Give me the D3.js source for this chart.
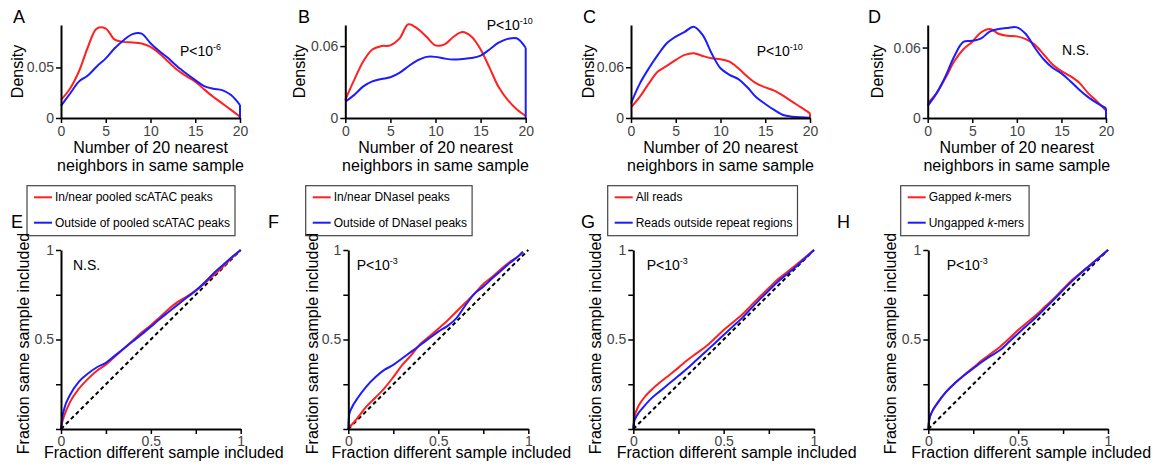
<!DOCTYPE html>
<html>
<head>
<meta charset="utf-8">
<script src="https://cdn.jsdelivr.net/npm/d3@7"></script>
<style>
  body { margin: 0; background: #fff; }
  svg { font-family: "Liberation Sans", Arial, Helvetica, sans-serif; }
  .axis path, .axis line { stroke: #000; }
  .axis path { stroke-width: 2; }
  .axis line { stroke-width: 1.5; }
  .axis text { fill: #444; font-size: 14px; }
  .label { font-size: 16px; fill: #000; }
  .letter { font-size: 18px; fill: #000; }
  .pval { font-size: 14px; fill: #000; }
  .legend-text { font-size: 12px; fill: #000; }
</style>
</head>
<body>
<div id="visualization"></div>
<script>
// ---- DATA ----
// top row: density of "number of 20 nearest neighbours in same sample"
const nnX = [0,1,2,3,4,5,6,7,8,9,10,11,12,13,14,15,16,17,18,19,20]

const densA_red  = [0.018,0.029,0.046,0.070,0.0885,0.0885,0.0776,0.0753,0.0747,0.0737,0.0704,0.0638,0.0556,0.0474,0.0414,0.036,0.0283,0.021,0.0145,0.008,0.0013]
const densA_blue = [0.012,0.024,0.036,0.042,0.051,0.059,0.069,0.077,0.083,0.0835,0.074,0.066,0.059,0.051,0.044,0.0375,0.0316,0.029,0.0276,0.0227,0.0128]

const densB_red  = [0.0151,0.032,0.0474,0.0572,0.060,0.0606,0.0662,0.0782,0.0746,0.0678,0.0606,0.0614,0.0678,0.0718,0.0678,0.0572,0.0418,0.0258,0.0151,0.0073,0.0017]
const densB_blue = [0.0137,0.0193,0.0264,0.0306,0.0325,0.034,0.0376,0.0432,0.048,0.051,0.051,0.0496,0.0488,0.0493,0.050,0.052,0.0572,0.0628,0.066,0.0665,0.0586]

const densC_red  = [0.0126,0.0253,0.041,0.0549,0.0616,0.0687,0.0746,0.0766,0.0734,0.0707,0.0695,0.0667,0.0588,0.049,0.041,0.0363,0.0324,0.0264,0.0193,0.0126,0.0055]
const densC_blue = [0.0174,0.041,0.0588,0.0746,0.0884,0.0963,0.102,0.108,0.0983,0.0766,0.0588,0.051,0.046,0.0363,0.0245,0.0166,0.0095,0.0036,0.0016,0.0008,0.0004]

const densD_red  = [0.0126,0.0212,0.0342,0.0485,0.0586,0.065,0.073,0.0758,0.0715,0.070,0.0695,0.0672,0.0625,0.0543,0.0456,0.040,0.0356,0.030,0.0212,0.014,0.0063]
const densD_blue = [0.0103,0.0212,0.0356,0.0528,0.0649,0.0657,0.0678,0.0738,0.0758,0.0767,0.0772,0.0715,0.060,0.050,0.0428,0.038,0.0313,0.0241,0.0178,0.0126,0.0083]

const densYMax = [0.092, 0.0776, 0.110, 0.0792]
const densYTick = [0.05, 0.06, 0.06, 0.06]
const densXTicks = [0, 5, 10, 15, 20]

// bottom row: fraction same sample vs fraction different sample included
const fracX  = [0,0.005,0.02,0.05,0.1,0.15,0.2,0.25,0.3,0.35,0.4,0.45,0.5,0.55,0.6,0.65,0.7,0.75,0.8,0.85,0.9,0.95,1]
const fracXF = [0,0.005,0.02,0.05,0.1,0.15,0.2,0.25,0.3,0.35,0.4,0.45,0.5,0.55,0.6,0.65,0.7,0.75,0.8,0.85,0.9,0.95,0.97]

const fracE_red  = [0,0.03,0.08,0.15,0.225,0.28,0.325,0.36,0.405,0.45,0.495,0.54,0.58,0.625,0.67,0.71,0.74,0.775,0.815,0.86,0.905,0.955,1]
const fracE_blue = [0,0.05,0.12,0.19,0.265,0.31,0.345,0.37,0.41,0.45,0.49,0.53,0.572,0.615,0.655,0.695,0.735,0.772,0.82,0.87,0.915,0.96,1]

const fracF_red  = [0,0.01,0.025,0.06,0.125,0.175,0.227,0.29,0.358,0.413,0.475,0.516,0.56,0.605,0.655,0.705,0.755,0.81,0.85,0.895,0.935,0.97,0.99]
const fracF_blue = [0,0.08,0.12,0.17,0.237,0.289,0.33,0.358,0.395,0.432,0.469,0.507,0.544,0.575,0.618,0.69,0.755,0.795,0.842,0.885,0.93,0.97,0.99]

const fracG_red  = [0,0.06,0.11,0.162,0.218,0.262,0.302,0.343,0.385,0.423,0.46,0.505,0.553,0.595,0.637,0.688,0.739,0.788,0.836,0.876,0.916,0.958,1]
const fracG_blue = [0,0.04,0.075,0.115,0.171,0.213,0.255,0.297,0.339,0.386,0.432,0.478,0.525,0.572,0.618,0.671,0.724,0.774,0.823,0.865,0.907,0.953,1]

const fracH_red  = [0,0.05,0.095,0.143,0.209,0.258,0.302,0.343,0.385,0.422,0.46,0.505,0.553,0.595,0.637,0.684,0.73,0.782,0.832,0.874,0.916,0.958,1]
const fracH_blue = [0,0.05,0.095,0.143,0.209,0.258,0.3,0.338,0.376,0.41,0.441,0.487,0.534,0.58,0.624,0.674,0.724,0.776,0.826,0.872,0.914,0.957,1]

const fracTicks = [0, 0.25, 0.5, 0.75, 1]
const fracXLabels = ['0', '', '0.5', '', '1']
const fracYLabels = ['', '', '0.5', '', '1']

const topLetters = ['A', 'B', 'C', 'D']
const bottomLetters = ['E', 'F', 'G', 'H']
const topPvals = [['P<10', '-6'], ['P<10', '-10'], ['P<10', '-10'], ['N.S.', '']]
const bottomPvals = [['N.S.', ''], ['P<10', '-3'], ['P<10', '-3'], ['P<10', '-3']]
const legendLabels = [
  ['In/near pooled scATAC peaks', 'Outside of pooled scATAC peaks'],
  ['In/near DNaseI peaks', 'Outside of DNaseI peaks'],
  ['All reads', 'Reads outside repeat regions'],
  ['Gapped *k*-mers', 'Ungapped *k*-mers']
]

// ---- LAYOUT ----
const w = 1158
const h = 467
const RED = '#ff2020'
const BLUE = '#1c1cff'

const topLayout = [
  { left: 61, right: 240, ylab: -38, px: 180, py: 56, lx: 13 },
  { left: 345.3, right: 525.7, ylab: -40, px: 486.7, py: 30, lx: 298 },
  { left: 631, right: 810, ylab: -37.5, px: 756.7, py: 56, lx: 583 },
  { left: 927.7, right: 1106, ylab: -44.5, px: 1062, py: 55, lx: 868 }
]
const topSeries = [
  { red: densA_red, blue: densA_blue, redDrop: false, blueDrop: true },
  { red: densB_red, blue: densB_blue, redDrop: false, blueDrop: true },
  { red: densC_red, blue: densC_blue, redDrop: true, blueDrop: false },
  { red: densD_red, blue: densD_blue, redDrop: false, blueDrop: true }
]
const bottomLayout = [
  { left: 61, right: 240.7, ylab: -32.5, px: 73, lx: 11 },
  { left: 348.3, right: 528.3, ylab: -30, px: 356.7, lx: 268 },
  { left: 633.3, right: 814, ylab: -32, px: 646.7, lx: 581 },
  { left: 928.3, right: 1108, ylab: -32, px: 946.7, lx: 837 }
]
const bottomSeries = [
  { xs: fracX, red: fracE_red, blue: fracE_blue },
  { xs: fracXF, red: fracF_red, blue: fracF_blue },
  { xs: fracX, red: fracG_red, blue: fracG_blue },
  { xs: fracX, red: fracH_red, blue: fracH_blue }
]
const legendX = [27, 305.7, 607.7, 900.7]

const svg = d3.select('#visualization')
  .append('svg')
  .attr('width', w)
  .attr('height', h)

function pText(x, y, parts) {
  const t = svg.append('text').attr('class', 'pval').attr('x', x).attr('y', y)
  t.append('tspan').text(parts[0])
  if (parts[1]) {
    t.append('tspan').attr('dy', -6).style('font-size', '9px').text(parts[1])
  }
}

// TOP ROW: density plots
topLayout.forEach((lay, i) => {
  const s = topSeries[i]
  const y0 = 118, y1 = 25
  const xScale = d3.scaleLinear().domain([0, 20]).range([lay.left, lay.right])
  const yScale = d3.scaleLinear().domain([0, densYMax[i]]).range([y0, y1])

  const line = d3.line()
    .x((d, j) => xScale(nnX[j]))
    .y(d => yScale(d))
    .curve(d3.curveCatmullRom.alpha(0.5))

  const drop = d3.line().x(d => xScale(d[0])).y(d => yScale(d[1]))

  ;[['red', RED, s.red, s.redDrop], ['blue', BLUE, s.blue, s.blueDrop]].forEach(([name, col, vals, hasDrop]) => {
    svg.append('path')
      .attr('d', line(vals))
      .attr('fill', 'none')
      .attr('stroke', col)
      .attr('stroke-width', 2)
    if (hasDrop) {
      svg.append('path')
        .attr('d', drop([[nnX[nnX.length - 1], vals[vals.length - 1]], [nnX[nnX.length - 1], 0]]))
        .attr('stroke', col)
        .attr('stroke-width', 2)
    }
  })

  const xaxis = d3.axisBottom(xScale).tickValues(densXTicks).tickSize(5).tickSizeOuter(0).tickPadding(3)
  const yaxis = d3.axisLeft(yScale).tickValues([0, densYTick[i]]).tickSize(5).tickSizeOuter(0).tickPadding(2)
    .tickFormat(d => d === 0 ? '0' : d3.format('.2f')(d))

  svg.append('g').attr('class', 'axis').attr('transform', `translate(0,${y0})`).call(xaxis)
  svg.append('g').attr('class', 'axis').attr('transform', `translate(${lay.left},0)`).call(yaxis)

  // y label
  svg.append('text')
    .attr('class', 'label')
    .attr('text-anchor', 'middle')
    .attr('transform', `translate(${lay.left + lay.ylab},${(y0 + y1) / 2}) rotate(-90)`)
    .text('Density')

  // x label, two lines
  const cx = (lay.left + lay.right) / 2
  svg.append('text').attr('class', 'label').attr('text-anchor', 'middle')
    .attr('x', cx).attr('y', 153).text('Number of 20 nearest')
  svg.append('text').attr('class', 'label').attr('text-anchor', 'middle')
    .attr('x', cx).attr('y', 171).text('neighbors in same sample')

  svg.append('text').attr('class', 'letter').attr('x', lay.lx).attr('y', 23).text(topLetters[i])
  pText(lay.px, lay.py, topPvals[i])
})

// LEGENDS
legendLabels.forEach((labels, i) => {
  const g = svg.append('g').attr('transform', `translate(${legendX[i]},185.7)`)
  const box = g.append('rect')
    .attr('y', 0)
    .attr('height', 50)
    .attr('fill', '#fff')
    .attr('stroke', '#444')
    .attr('stroke-width', 1.2)
  let maxRight = 0
  labels.forEach((lab, j) => {
    const ly = 11.6 + j * 25.4
    g.append('line')
      .attr('x1', 7).attr('x2', 25)
      .attr('y1', ly).attr('y2', ly)
      .attr('stroke', j === 0 ? RED : BLUE)
      .attr('stroke-width', 2)
    const t = g.append('text').attr('class', 'legend-text').attr('x', 28).attr('y', ly + 4)
    lab.split('*').forEach((part, k) => {
      if (part) t.append('tspan').style('font-style', k % 2 ? 'italic' : 'normal').text(part)
    })
    maxRight = Math.max(maxRight, 28 + t.node().getComputedTextLength())
  })
  box.attr('width', maxRight + 5)
})

// BOTTOM ROW: fraction curves
bottomLayout.forEach((lay, i) => {
  const s = bottomSeries[i]
  const y0 = 429, y1 = 250
  const xScale = d3.scaleLinear().domain([0, 1]).range([lay.left, lay.right])
  const yScale = d3.scaleLinear().domain([0, 1]).range([y0, y1])

  // diagonal reference
  svg.append('path')
    .attr('d', d3.line().x(d => xScale(d)).y(d => yScale(d))([0, 1]))
    .attr('stroke', '#000')
    .attr('stroke-width', 2)
    .attr('stroke-dasharray', '4,3')

  const line = d3.line()
    .x((d, j) => xScale(s.xs[j]))
    .y(d => yScale(d))
    .curve(d3.curveMonotoneX)

  svg.append('path').attr('d', line(s.red)).attr('fill', 'none').attr('stroke', RED).attr('stroke-width', 2)
  svg.append('path').attr('d', line(s.blue)).attr('fill', 'none').attr('stroke', BLUE).attr('stroke-width', 2)

  const xaxis = d3.axisBottom(xScale).tickValues(fracTicks).tickSize(5).tickSizeOuter(0).tickPadding(2)
    .tickFormat((d, j) => fracXLabels[j])
  const yaxis = d3.axisLeft(yScale).tickValues(fracTicks).tickSize(5).tickSizeOuter(0).tickPadding(2)
    .tickFormat((d, j) => fracYLabels[j])

  svg.append('g').attr('class', 'axis').attr('transform', `translate(0,${y0})`).call(xaxis)
  svg.append('g').attr('class', 'axis').attr('transform', `translate(${lay.left},0)`).call(yaxis)

  svg.append('text')
    .attr('class', 'label')
    .attr('text-anchor', 'middle')
    .attr('transform', `translate(${lay.left + lay.ylab},${(y0 + y1) / 2 + 4}) rotate(-90)`)
    .text('Fraction same sample included')

  svg.append('text').attr('class', 'label').attr('text-anchor', 'middle')
    .attr('x', (lay.left + lay.right) / 2 + 13).attr('y', 458)
    .text('Fraction different sample included')

  svg.append('text').attr('class', 'letter').attr('x', lay.lx).attr('y', 228.3).text(bottomLetters[i])
  pText(lay.px, 270, bottomPvals[i])
})
</script>
</body>
</html>
